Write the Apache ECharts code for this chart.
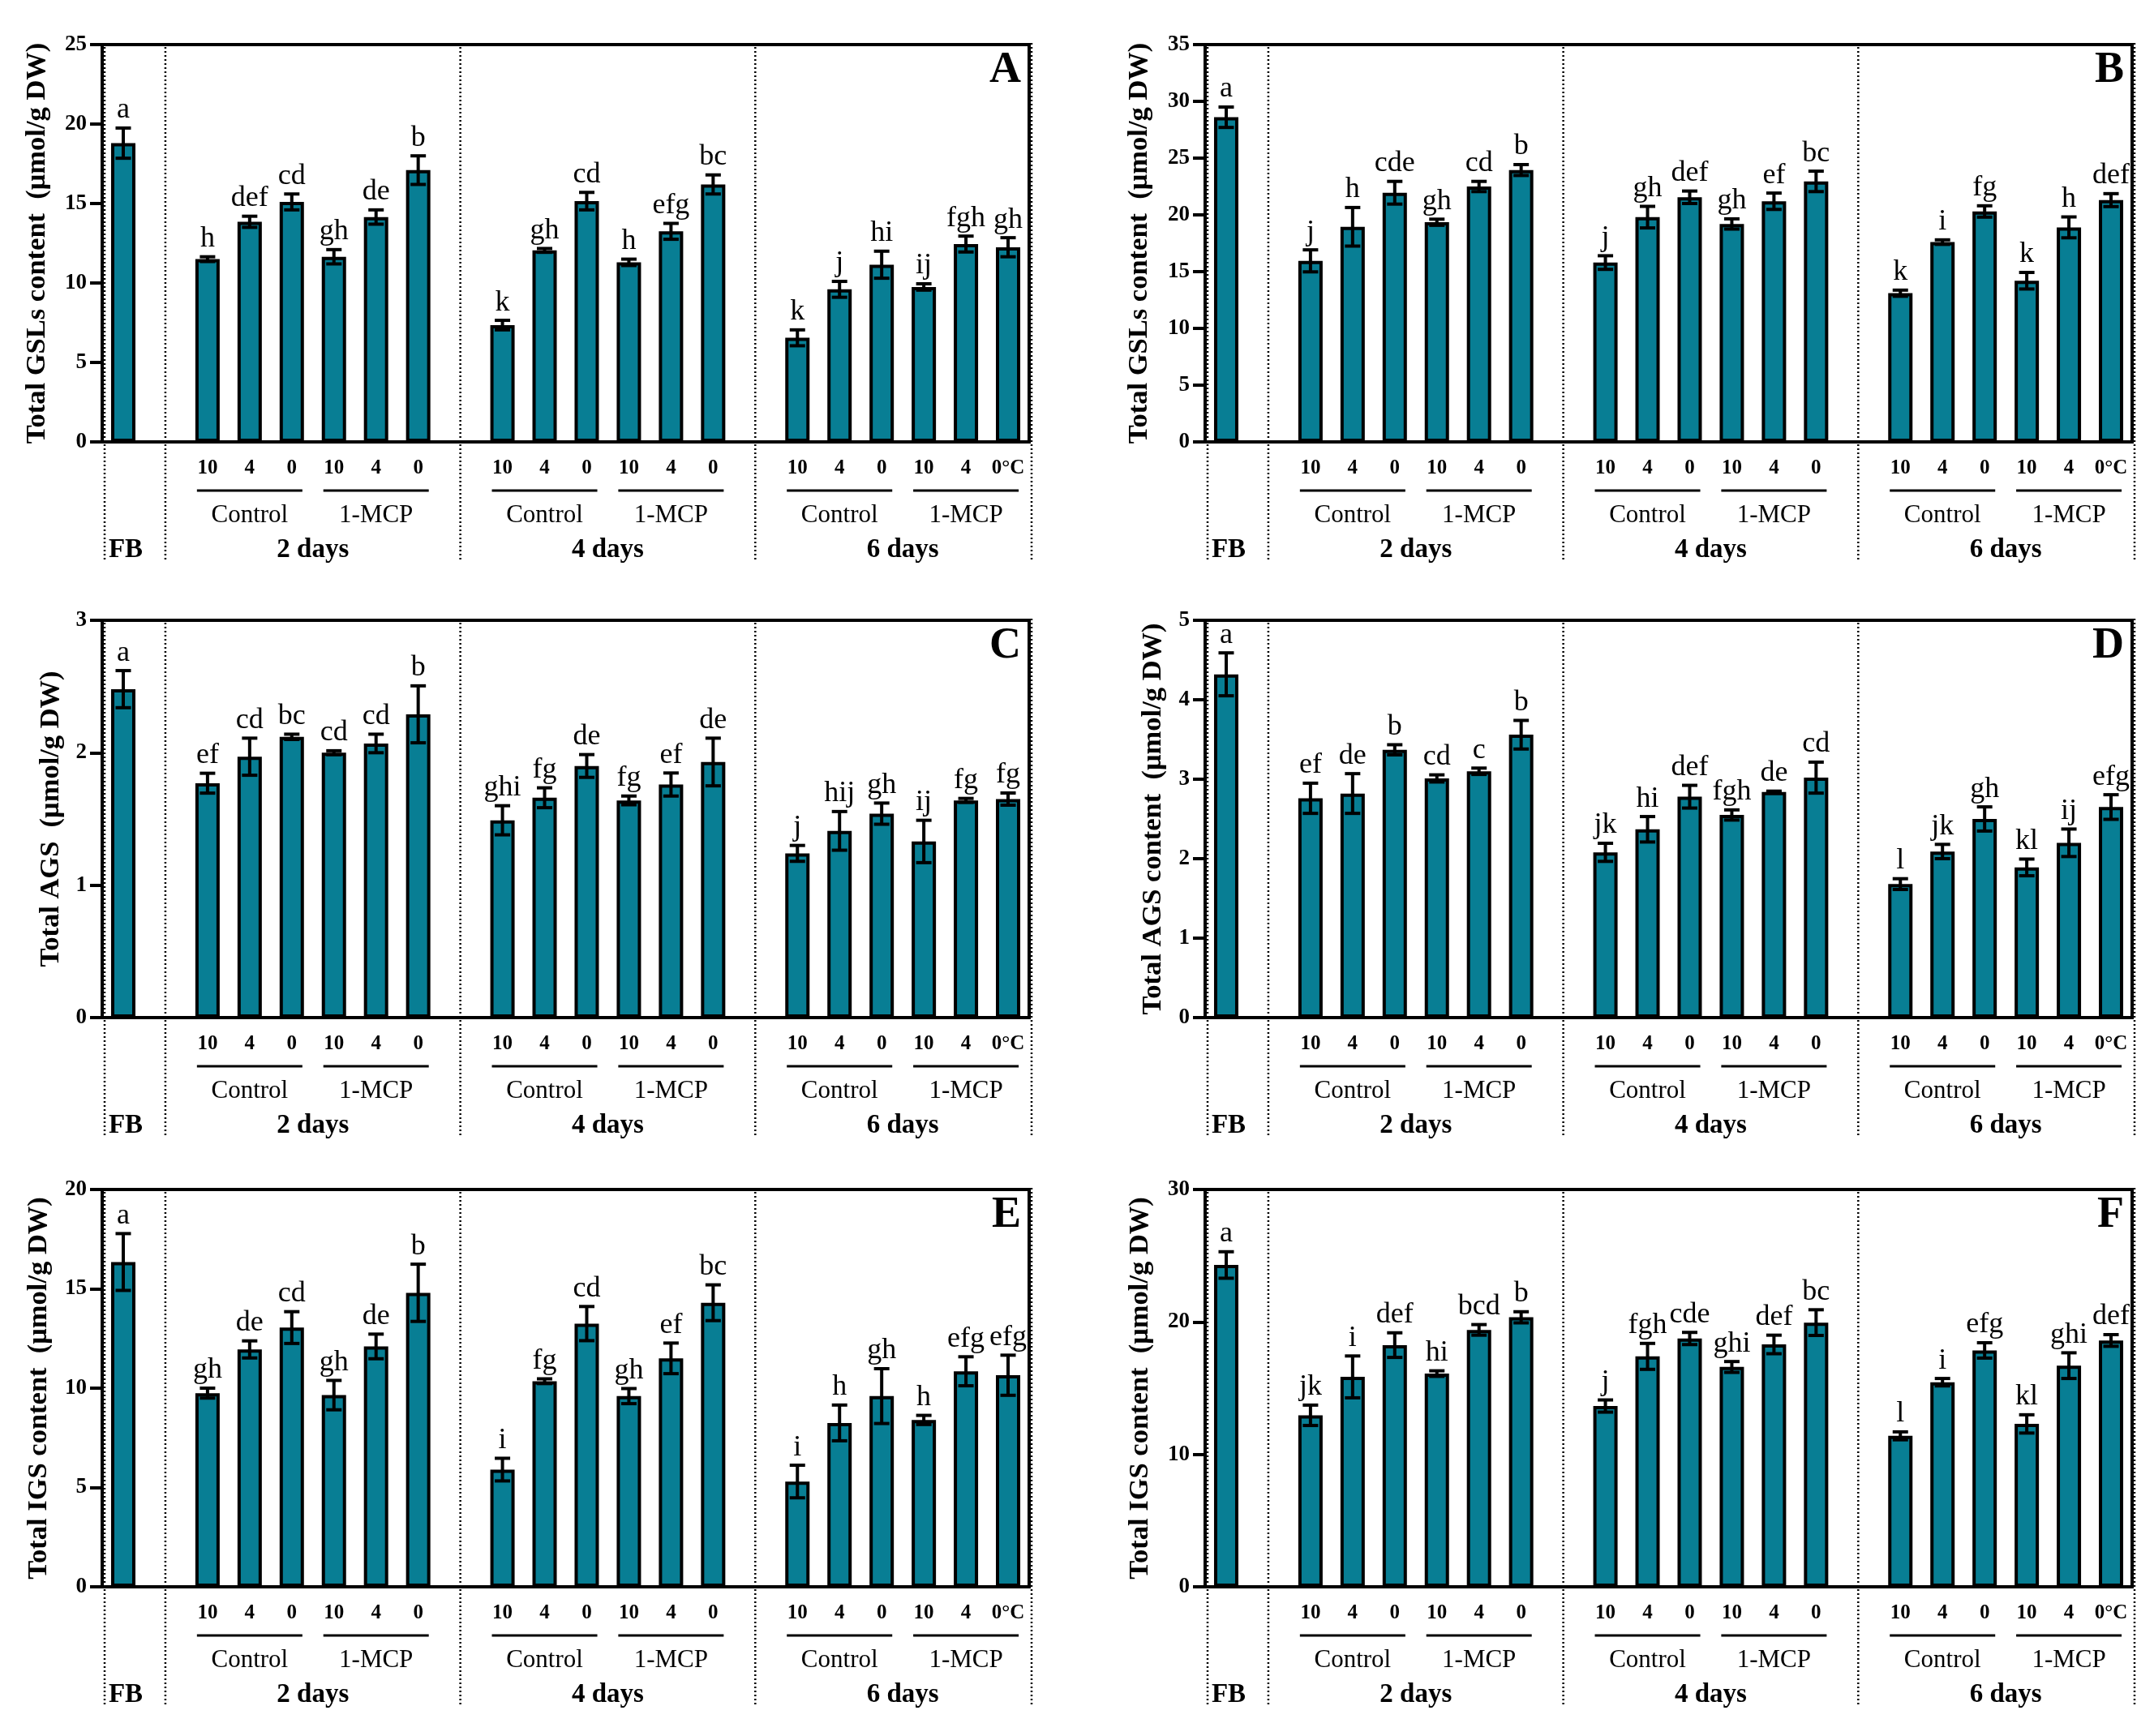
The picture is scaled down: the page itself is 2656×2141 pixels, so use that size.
<!DOCTYPE html>
<html><head><meta charset="utf-8">
<script src="https://cdn.jsdelivr.net/npm/echarts@6/dist/echarts.min.js"></script>
<style>html,body{margin:0;padding:0;background:#fff}#chart{width:2656px;height:2141px}</style>
</head><body><div id="chart"></div>
<script>
// ---- labels ----
const slotLabels = ['', '', '10','4','0','10','4','0','', '10','4','0','10','4','0','', '10','4','0','10','4','0°C'];
const groupNames = ['Control','1-MCP'];
const dayNames = ['2 days','4 days','6 days'];
const fbLabel = 'FB';

// ---- Panel A: Total GSLs ----
const valsA = [18.8, 11.5, 13.85, 15.1, 11.65, 14.15, 17.1, 7.35, 12.05, 15.15, 11.3, 13.25, 16.2, 6.55, 9.6, 11.15, 9.75, 12.45, 12.25];
const errA  = [0.95, 0.15, 0.35, 0.5, 0.45, 0.45, 0.9, 0.3, 0.12, 0.55, 0.2, 0.5, 0.6, 0.5, 0.5, 0.85, 0.2, 0.5, 0.6];
const letA  = ['a','h','def','cd','gh','de','b','k','gh','cd','h','efg','bc','k','j','hi','ij','fgh','gh'];
// ---- Panel B: Total GSLs ----
const valsB = [28.6, 15.95, 18.95, 21.95, 19.35, 22.5, 23.95, 15.8, 19.8, 21.55, 19.2, 21.2, 22.95, 13.1, 17.6, 20.3, 14.2, 18.9, 21.3];
const errB  = [0.9, 0.97, 1.7, 1.0, 0.27, 0.45, 0.48, 0.6, 0.95, 0.55, 0.45, 0.72, 0.9, 0.27, 0.2, 0.5, 0.73, 0.92, 0.57];
const letB  = ['a','j','h','cde','gh','cd','b','j','gh','def','gh','ef','bc','k','i','fg','k','h','def'];
// ---- Panel C: Total AGS ----
const valsC = [2.48, 1.77, 1.97, 2.12, 2.0, 2.07, 2.29, 1.49, 1.66, 1.9, 1.64, 1.76, 1.93, 1.24, 1.41, 1.54, 1.33, 1.64, 1.65];
const errC  = [0.14, 0.075, 0.14, 0.02, 0.015, 0.07, 0.215, 0.11, 0.075, 0.086, 0.033, 0.087, 0.18, 0.06, 0.146, 0.08, 0.16, 0.015, 0.046];
const letC  = ['a','ef','cd','bc','cd','cd','b','ghi','fg','de','fg','ef','de','j','hij','gh','ij','fg','fg'];
// ---- Panel D: Total AGS ----
const valsD = [4.32, 2.76, 2.82, 3.37, 3.01, 3.1, 3.56, 2.08, 2.37, 2.78, 2.55, 2.84, 3.02, 1.68, 2.09, 2.5, 1.89, 2.2, 2.65];
const errD  = [0.27, 0.19, 0.25, 0.064, 0.045, 0.04, 0.18, 0.114, 0.16, 0.143, 0.064, 0.01, 0.195, 0.068, 0.09, 0.152, 0.105, 0.173, 0.155];
const letD  = ['a','ef','de','b','cd','c','b','jk','hi','def','fgh','de','cd','l','jk','gh','kl','ij','efg'];
// ---- Panel E: Total IGS ----
const valsE = [16.35, 9.75, 11.95, 13.05, 9.65, 12.1, 14.8, 5.9, 10.35, 13.25, 9.6, 11.5, 14.3, 5.3, 8.25, 9.6, 8.4, 10.85, 10.65];
const errE  = [1.43, 0.25, 0.43, 0.8, 0.74, 0.62, 1.44, 0.57, 0.12, 0.86, 0.38, 0.77, 0.9, 0.82, 0.9, 1.38, 0.23, 0.73, 1.01];
const letE  = ['a','gh','de','cd','gh','de','b','i','fg','cd','gh','ef','bc','i','h','gh','h','efg','efg'];
// ---- Panel F: Total IGS ----
const valsF = [24.3, 12.95, 15.85, 18.25, 16.1, 19.4, 20.35, 13.65, 17.4, 18.75, 16.6, 18.3, 19.95, 11.4, 15.45, 17.85, 12.3, 16.7, 18.6];
const errF  = [1.0, 0.77, 1.58, 0.93, 0.21, 0.4, 0.42, 0.46, 0.98, 0.46, 0.41, 0.7, 0.97, 0.3, 0.28, 0.58, 0.69, 0.97, 0.44];
const letF  = ['a','jk','i','def','hi','bcd','b','j','fgh','cde','ghi','def','bc','l','i','efg','kl','ghi','def'];

const axisMax   = [25, 35, 3, 5, 20, 30];
const axisStep  = [5, 5, 1, 1, 5, 10];
const axisNames = ['Total GSLs content  (μmol/g DW)','Total GSLs content  (μmol/g DW)','Total AGS  (μmol/g DW)','Total AGS content  (μmol/g DW)','Total IGS content  (μmol/g DW)','Total IGS content  (μmol/g DW)'];
const panelIds  = ['A','B','C','D','E','F'];

const panels = [
  {vals: valsA, err: errA, let: letA},
  {vals: valsB, err: errB, let: letB},
  {vals: valsC, err: errC, let: letC},
  {vals: valsD, err: errD, let: letD},
  {vals: valsE, err: errE, let: letE},
  {vals: valsF, err: errF, let: letF}
];

// ---- layout ----
const FONT = '"Liberation Serif", "Times New Roman", serif';
const BAR = '#087e94';
const W = 1143, H = 490;
const lefts = [126, 1486, 126, 1486, 126, 1486];
const tops  = [55, 55, 765, 765, 1467, 1467];
const nameGaps = [62, 63, 45, 46, 60, 62];

function toSlot(i) { return i === 0 ? 0 : (i <= 6 ? i + 1 : (i <= 12 ? i + 2 : i + 3)); }

const grids = [], xAxes = [], yAxes = [], series = [], graphics = [];

panels.forEach((p, k) => {
  grids.push({left: lefts[k], top: tops[k], width: W, height: H, show: true, borderColor: '#000', borderWidth: 4, containLabel: false});
  xAxes.push({
    type: 'category', gridIndex: k, data: slotLabels.map((l, i) => 's' + i),
    axisLine: {show: true, lineStyle: {color: '#000', width: 4}},
    axisTick: {show: false},
    axisLabel: {interval: 0, margin: 20, color: '#000', fontFamily: FONT, fontWeight: 'bold', fontSize: 25,
      formatter: (v, idx) => slotLabels[idx]}
  });
  yAxes.push({
    type: 'value', gridIndex: k, min: 0, max: axisMax[k], interval: axisStep[k],
    axisLine: {show: true, lineStyle: {color: '#000', width: 4}},
    axisTick: {show: true, length: 15, lineStyle: {color: '#000', width: 4}},
    splitLine: {show: false},
    axisLabel: {margin: 19, color: '#000', fontFamily: FONT, fontWeight: 'bold', fontSize: 27},
    name: axisNames[k], nameLocation: 'middle', nameGap: nameGaps[k],
    nameTextStyle: {color: '#000', fontFamily: FONT, fontWeight: 'bold', fontSize: 34.5}
  });
  const barData = slotLabels.map(() => '-');
  p.vals.forEach((v, i) => { barData[toSlot(i)] = v; });
  series.push({
    type: 'bar', xAxisIndex: k, yAxisIndex: k, data: barData, barWidth: 30, z: 2,
    itemStyle: {color: BAR, borderColor: '#000', borderWidth: 4}, silent: true
  });
  const letters = p.let;
  series.push({
    type: 'custom', xAxisIndex: k, yAxisIndex: k, z: 5, silent: true,
    data: p.vals.map((v, i) => [toSlot(i), v - p.err[i], v + p.err[i]]),
    renderItem: (params, api) => {
      const x = api.coord([api.value(0), 0])[0];
      const lo = api.coord([api.value(0), api.value(1)])[1];
      const hi = api.coord([api.value(0), api.value(2)])[1];
      const cw = 9.5;
      const st = {stroke: '#000', lineWidth: 4};
      return {type: 'group', children: [
        {type: 'line', shape: {x1: x, y1: lo, x2: x, y2: hi}, style: st},
        {type: 'line', shape: {x1: x - cw, y1: hi, x2: x + cw, y2: hi}, style: st},
        {type: 'line', shape: {x1: x - cw, y1: lo, x2: x + cw, y2: lo}, style: st},
        {type: 'text', x: x, y: hi - 4, style: {text: letters[params.dataIndex], fill: '#000',
          fontFamily: FONT, fontSize: 36, align: 'center', verticalAlign: 'bottom'}}
      ]};
    }
  });
  // decorations below axis: separators, group lines, group names, day names
  series.push({
    type: 'custom', xAxisIndex: k, yAxisIndex: k, z: 1, silent: true,
    data: [[0, axisMax[k]]],
    renderItem: (params, api) => {
      const bw = api.size([1, 0])[0];
      const cx = s => api.coord([s, 0])[0];
      const yb = api.coord([0, 0])[1];
      const yt = api.coord([0, api.value(1)])[1];
      const ch = [];
      const dot = {stroke: '#000', lineWidth: 2.5, lineDash: [2, 3]};
      [cx(0) - bw / 2 + 3, cx(1), cx(8), cx(15), cx(21) + bw / 2 + 3].forEach(x => {
        ch.push({type: 'line', shape: {x1: x, y1: yt - 2, x2: x, y2: yb + 145}, style: dot});
      });
      [2, 5, 9, 12, 16, 19].forEach((s, g) => {
        const c = cx(s + 1);
        ch.push({type: 'line', shape: {x1: c - 65, y1: yb + 60, x2: c + 65, y2: yb + 60}, style: {stroke: '#000', lineWidth: 3}});
        ch.push({type: 'text', x: c, y: yb + 91, style: {text: groupNames[g % 2], fill: '#000', fontFamily: FONT, fontSize: 31, align: 'center', verticalAlign: 'middle'}});
      });
      [2, 9, 16].forEach((s, d) => {
        const c = (cx(s) + cx(s + 5)) / 2;
        ch.push({type: 'text', x: c, y: yb + 133, style: {text: dayNames[d], fill: '#000', fontFamily: FONT, fontWeight: 'bold', fontSize: 33, align: 'center', verticalAlign: 'middle'}});
      });
      ch.push({type: 'text', x: cx(0) + 3, y: yb + 133, style: {text: fbLabel, fill: '#000', fontFamily: FONT, fontWeight: 'bold', fontSize: 33, align: 'center', verticalAlign: 'middle'}});
      return {type: 'group', children: ch};
    }
  });
  graphics.push({type: 'text', x: lefts[k] + W - 10, y: tops[k] + 5, z: 10,
    style: {text: panelIds[k], fill: '#000', fontFamily: FONT, fontWeight: 'bold', fontSize: 54, align: 'right', verticalAlign: 'top'}});
});

const chart = echarts.init(document.getElementById('chart'), null, {renderer: 'canvas'});
chart.setOption({
  animation: false, backgroundColor: '#fff',
  grid: grids, xAxis: xAxes, yAxis: yAxes, series: series, graphic: graphics
});
</script></body></html>
